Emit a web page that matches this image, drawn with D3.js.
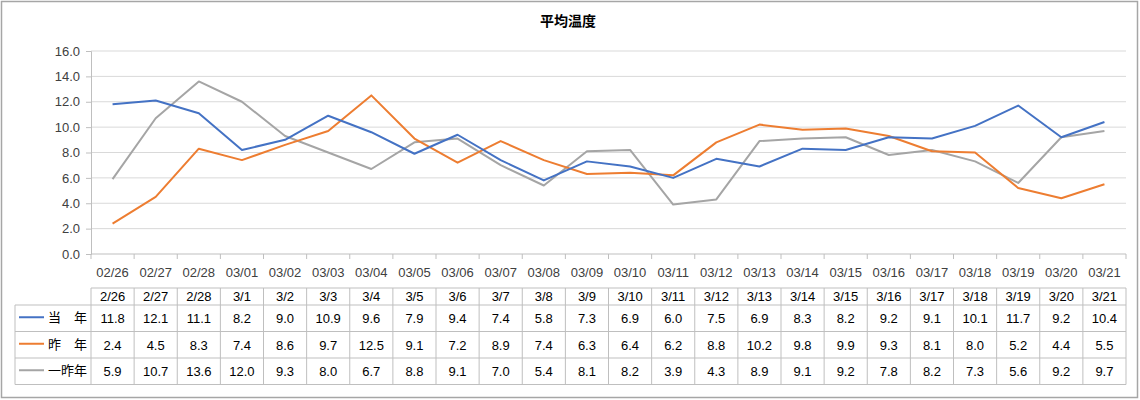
<!DOCTYPE html>
<html>
<head>
<meta charset="utf-8">
<script src="https://cdn.jsdelivr.net/npm/d3@7"></script>
<style>
  body { margin: 0; background: #fff; }
  svg text { font-family: "Liberation Sans", "Noto Sans CJK JP", sans-serif; fill: #404040; }
</style>
</head>
<body>
<svg id="chart" width="1140" height="400"></svg>
<script>
// axis categories and the short labels shown in the table header
const categories = ['02/26','02/27','02/28','03/01','03/02','03/03','03/04','03/05','03/06','03/07','03/08','03/09',
                    '03/10','03/11','03/12','03/13','03/14','03/15','03/16','03/17','03/18','03/19','03/20','03/21'];
const tableDates = ['2/26','2/27','2/28','3/1','3/2','3/3','3/4','3/5','3/6','3/7','3/8','3/9',
                    '3/10','3/11','3/12','3/13','3/14','3/15','3/16','3/17','3/18','3/19','3/20','3/21'];
const thisYear = [11.8,12.1,11.1,8.2,9.0,10.9,9.6,7.9,9.4,7.4,5.8,7.3,6.9,6.0,7.5,6.9,8.3,8.2,9.2,9.1,10.1,11.7,9.2,10.4];
const lastYear = [2.4,4.5,8.3,7.4,8.6,9.7,12.5,9.1,7.2,8.9,7.4,6.3,6.4,6.2,8.8,10.2,9.8,9.9,9.3,8.1,8.0,5.2,4.4,5.5];
const twoYearsAgo = [5.9,10.7,13.6,12.0,9.3,8.0,6.7,8.8,9.1,7.0,5.4,8.1,8.2,3.9,4.3,8.9,9.1,9.2,7.8,8.2,7.3,5.6,9.2,9.7];
const yTicks = [0,2,4,6,8,10,12,14,16];

const series = [
  { name: '当　年', values: thisYear, color: '#4472C4' },
  { name: '昨　年', values: lastYear, color: '#ED7D31' },
  { name: '一昨年', values: twoYearsAgo, color: '#A5A5A5' }
];

const svg = d3.select('#chart');
const plotLeft = 91, plotRight = 1126, plotTop = 51, plotBottom = 254;

// outer frame
svg.append('rect').attr('x', 1.5).attr('y', 1.5).attr('width', 1136).attr('height', 396)
  .attr('fill', '#fff').attr('stroke', '#a6a6a6').attr('stroke-width', 1.5);

svg.append('text').attr('x', 568).attr('y', 26).attr('text-anchor', 'middle')
  .style('font-size', '14px').style('font-weight', 'bold')
  .style('font-family', '"Noto Sans CJK JP", sans-serif').style('fill', '#000')
  .text('平均温度');

const x = d3.scaleBand().domain(categories).range([plotLeft, plotRight]);
const y = d3.scaleLinear().domain([0, 16]).range([plotBottom, plotTop]);

// gridlines
svg.append('g').selectAll('line').data(yTicks.filter(d => d > 0)).join('line')
  .attr('x1', plotLeft).attr('x2', plotRight)
  .attr('y1', d => y(d)).attr('y2', d => y(d))
  .attr('stroke', '#d9d9d9').attr('stroke-width', 1);

// y axis
const yAxis = svg.append('g').attr('transform', `translate(${plotLeft},0)`)
  .call(d3.axisLeft(y).tickValues(yTicks).tickFormat(d3.format('.1f')).tickSize(5).tickPadding(6));
yAxis.select('.domain').attr('stroke', '#bfbfbf');
yAxis.selectAll('.tick line').attr('stroke', '#bfbfbf');
yAxis.selectAll('text').style('font-size', '13px').style('fill', '#404040');

// x axis baseline and category ticks
svg.append('line').attr('x1', plotLeft).attr('x2', plotRight).attr('y1', plotBottom).attr('y2', plotBottom)
  .attr('stroke', '#bfbfbf');
svg.append('g').selectAll('line').data(d3.range(categories.length + 1)).join('line')
  .attr('x1', i => plotLeft + i * x.bandwidth()).attr('x2', i => plotLeft + i * x.bandwidth())
  .attr('y1', plotBottom).attr('y2', plotBottom + 5).attr('stroke', '#bfbfbf');
svg.append('g').selectAll('text').data(categories).join('text')
  .attr('x', d => x(d) + x.bandwidth() / 2).attr('y', 277)
  .attr('text-anchor', 'middle').style('font-size', '13px')
  .text(d => d);

// lines
const line = d3.line()
  .x((d, i) => x(categories[i]) + x.bandwidth() / 2)
  .y(d => y(d));
series.slice().reverse().forEach(s => {
  svg.append('path').datum(s.values).attr('d', line)
    .attr('fill', 'none').attr('stroke', s.color).attr('stroke-width', 2)
    .attr('stroke-linejoin', 'round');
});

// data table
const tableTop = 288, headH = 17, rowH = 26.5, labelLeft = 15;
const tbl = svg.append('g');
const gridColor = '#bfbfbf';
const hLines = [tableTop, tableTop + headH, tableTop + headH + rowH, tableTop + headH + 2 * rowH, tableTop + headH + 3 * rowH];
hLines.forEach((yy, i) => {
  tbl.append('line').attr('x1', i === 0 ? plotLeft : labelLeft).attr('x2', plotRight)
    .attr('y1', yy).attr('y2', yy).attr('stroke', gridColor);
});
tbl.append('line').attr('x1', labelLeft).attr('x2', labelLeft)
  .attr('y1', tableTop + headH).attr('y2', hLines[4]).attr('stroke', gridColor);
d3.range(categories.length + 1).forEach(i => {
  const xx = plotLeft + i * x.bandwidth();
  tbl.append('line').attr('x1', xx).attr('x2', xx)
    .attr('y1', tableTop).attr('y2', hLines[4]).attr('stroke', gridColor);
});
// header
tbl.selectAll('text.hd').data(tableDates).join('text').attr('class', 'hd')
  .attr('x', (d, i) => x(categories[i]) + x.bandwidth() / 2).attr('y', tableTop + 13)
  .attr('text-anchor', 'middle').style('font-size', '13px').style('fill', '#000')
  .text(d => d);
// rows
series.forEach((s, r) => {
  const cy = tableTop + headH + r * rowH + rowH / 2;
  tbl.append('line').attr('x1', 19).attr('x2', 44).attr('y1', cy - 1).attr('y2', cy - 1)
    .attr('stroke', s.color).attr('stroke-width', 2);
  tbl.append('text').attr('x', 87).attr('y', cy + 4).attr('text-anchor', 'end')
    .style('font-size', '13px').style('fill', '#000')
    .style('font-family', '"Noto Sans CJK JP", sans-serif')
    .text(s.name);
  tbl.selectAll(null).data(s.values).join('text')
    .attr('x', (d, i) => x(categories[i]) + x.bandwidth() / 2).attr('y', cy + 5)
    .attr('text-anchor', 'middle').style('font-size', '13px').style('fill', '#000')
    .text(d => d.toFixed(1));
});
</script>
</body>
</html>
